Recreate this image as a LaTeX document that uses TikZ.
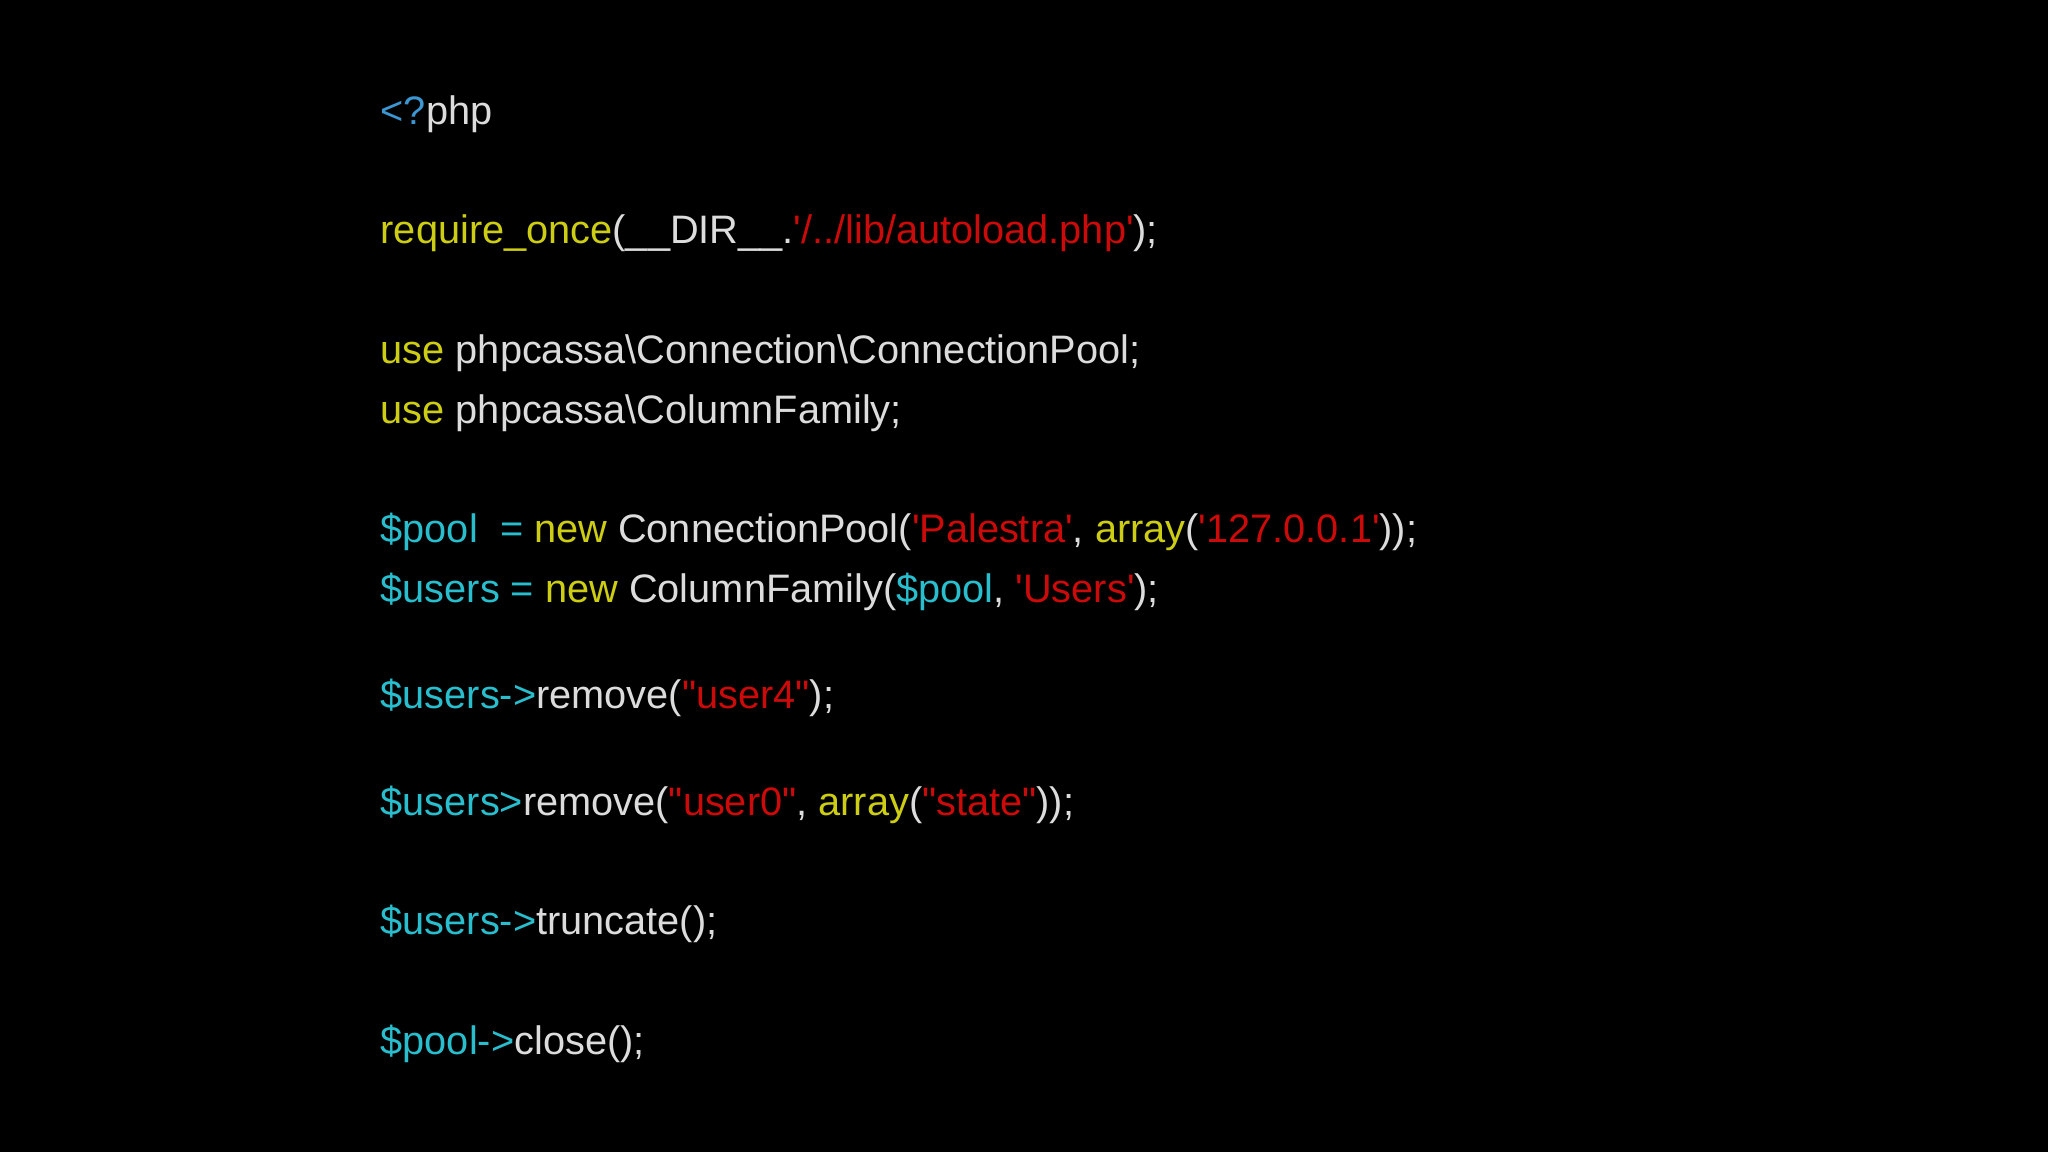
\documentclass[tikz,border=0pt]{standalone}
\usepackage{fontspec}
\newfontfamily\code{Liberation Sans}
\definecolor{cy}{RGB}{40,190,205}
\definecolor{yl}{RGB}{205,205,20}
\definecolor{rd}{RGB}{205,10,10}
\definecolor{gr}{RGB}{220,220,220}
\definecolor{bl}{RGB}{60,150,210}
\tikzset{ln/.style={anchor=base west,inner sep=0pt,text=gr,font=\code\fontsize{11.3pt}{13pt}\selectfont}}
\newcommand{\Y}[1]{\textcolor{yl}{#1}}
\newcommand{\R}[1]{\textcolor{rd}{#1}}
\newcommand{\C}[1]{\textcolor{cy}{#1}}
\begin{document}
\begin{tikzpicture}[x=0.01cm,y=-0.01cm]
\fill[black] (0,0) rectangle (2048,1152);
\node[ln] (l1) at (380,124.5) {\textcolor{bl}{<?}php};
\node[ln] (l2) at (380,243.5) {\Y{require\_once}(\_\_DIR\_\_.\R{'/../lib/autoload.php'});};
\node[ln] (l3) at (380,363.5) {\Y{use} phpcassa\textbackslash Connection\textbackslash ConnectionPool;};
\node[ln] (l4) at (380,423.5) {\Y{use} phpcassa\textbackslash ColumnFamily;};
\node[ln] (l5) at (380,542.5) {\C{\$pool}\ \ \C{=} \Y{new} ConnectionPool(\R{'Palestra'}, \Y{array}(\R{'127.0.0.1'}));};
\node[ln] (l6) at (380,602.5) {\C{\$users =} \Y{new} ColumnFamily(\C{\$pool}, \R{'Users'});};
\node[ln] (l7) at (380,708.5) {\C{\$users->}remove(\R{"user4"});};
\node[ln] (l8) at (380,815.5) {\C{\$users>}remove(\R{"user0"}, \Y{array}(\R{"state"}));};
\node[ln] (l9) at (380,934.5) {\C{\$users->}truncate();};
\node[ln] (l10) at (380,1054.5) {\C{\$pool->}close();};
\end{tikzpicture}
\end{document}
